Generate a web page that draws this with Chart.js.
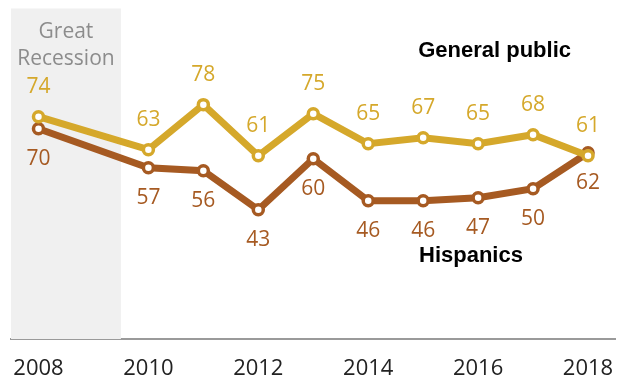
<!DOCTYPE html>
<html>
<head>
<meta charset="utf-8">
<script src="https://cdn.jsdelivr.net/npm/chart.js@4/dist/chart.umd.min.js"></script>
<style>
  html, body { margin: 0; padding: 0; background: #fff; }
  #wrap { width: 624px; height: 379px; position: relative; }
</style>
</head>
<body>
<div id="wrap"><canvas id="trend"></canvas></div>
<script>
	// Survey years (no 2009 reading) and shares for each group
	const years = [2008, 2010, 2011, 2012, 2013, 2014, 2015, 2016, 2017, 2018];
	const generalPublic = [74, 63, 78, 61, 75, 65, 67, 65, 68, 61];
	const hispanics = [70, 57, 56, 43, 60, 46, 46, 47, 50, 62];
	const tickYears = [2008, 2010, 2012, 2014, 2016, 2018];
	const recession = [2007.5, 2009.5];

	const GOLD = '#d5a82b';
	const BROWN = '#a65a22';
	const FONT = '"Open Sans", "Liberation Sans", sans-serif';

	const toPoints = (vals) => years.map((yr, i) => ({ x: yr, y: vals[i] }));

	// Grey band behind the lines for the recession years
	const recessionBand = {
		id: 'recessionBand',
		beforeDatasetsDraw(chart) {
			const { ctx, chartArea, scales } = chart;
			const x0 = scales.x.getPixelForValue(recession[0]);
			const x1 = scales.x.getPixelForValue(recession[1]);
			ctx.save();
			ctx.fillStyle = '#f0f0f0';
			ctx.fillRect(x0, chartArea.top, x1 - x0, chartArea.bottom - chartArea.top);
			ctx.fillStyle = '#8c8c8c';
			ctx.font = '21px ' + FONT;
			ctx.textAlign = 'center';
			ctx.textBaseline = 'middle';
			const cx = (x0 + x1) / 2;
			ctx.fillText('Great', cx, chartArea.top + 24);
			ctx.fillText('Recession', cx, chartArea.top + 51);
			ctx.restore();
		}
	};

	// Value labels: above the general public line, below the Hispanic line
	const valueLabels = {
		id: 'valueLabels',
		afterDatasetsDraw(chart) {
			const { ctx, scales } = chart;
			ctx.save();
			ctx.font = '21px ' + FONT;
			ctx.textAlign = 'center';
			ctx.textBaseline = 'middle';
			chart.data.datasets.forEach((ds) => {
				const dir = ds.label === 'General public' ? -1 : 1;
				ctx.fillStyle = ds.borderColor;
				ds.data.forEach((p) => {
					const px = scales.x.getPixelForValue(p.x);
					const py = scales.y.getPixelForValue(p.y);
					ctx.fillText(String(p.y), px, py + dir * 30);
				});
			});

			// series names
			ctx.fillStyle = '#000';
			ctx.font = 'bold 22px "Liberation Sans", sans-serif';
			ctx.fillText('General public', scales.x.getPixelForValue(2016.3), scales.y.getPixelForValue(96));
			ctx.fillText('Hispanics', scales.x.getPixelForValue(2015.87), scales.y.getPixelForValue(27.6));
			ctx.restore();
		}
	};

	const lineStyle = (color) => ({
		borderColor: color,
		backgroundColor: '#fff',
		borderWidth: 7,
		pointRadius: 5,
		pointBorderWidth: 3.5,
		pointBackgroundColor: '#fff',
		pointBorderColor: color,
		tension: 0,
		clip: false
	});

	new Chart(document.getElementById('trend'), {
		type: 'line',
		data: {
			datasets: [
				Object.assign({ label: 'General public', data: toPoints(generalPublic), order: 1 }, lineStyle(GOLD)),
				Object.assign({ label: 'Hispanics', data: toPoints(hispanics), order: 2 }, lineStyle(BROWN))
			]
		},
		options: {
			responsive: true,
			maintainAspectRatio: false,
			animation: false,
			layout: { padding: { left: 11, right: 5, top: 5, bottom: 0 } },
			plugins: {
				legend: { display: false },
				tooltip: { enabled: false }
			},
			scales: {
				x: {
					type: 'linear',
					min: recession[0],
					max: 2018.5,
					afterBuildTicks: (scale) => {
						scale.ticks = tickYears.map(v => ({ value: v }));
					},
					afterFit: (scale) => {
						// fixed axis band; labels already sit inside the plot width
						scale.height = 40;
						scale.paddingLeft = 0;
						scale.paddingRight = 0;
					},
					grid: { display: false, drawTicks: false },
					border: { display: true, color: '#9a9a9a', width: 2 },
					ticks: {
						padding: 17,
						color: '#222',
						font: { family: FONT, size: 22 },
						maxRotation: 0,
						autoSkip: false,
						callback: (v) => String(v)
					}
				},
				y: {
					display: false,
					min: 0,
					max: 110
				}
			}
		},
		plugins: [recessionBand, valueLabels]
	});
</script>
</body>
</html>
